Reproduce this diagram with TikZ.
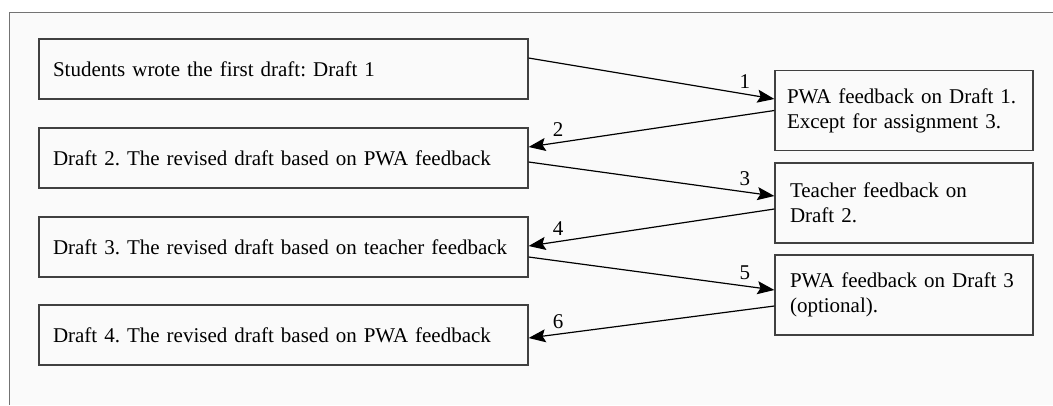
\documentclass[tikz,border=0pt]{standalone}
\usepackage{fontspec}
\setmainfont{Liberation Serif}
\usetikzlibrary{arrows.meta}
\frenchspacing

\begin{document}
\begin{tikzpicture}[x=1pt, y=-1pt,
        draftbox/.style={draw=black!75, line width=1.2pt, text width=461pt, inner xsep=14pt,
            minimum height=60pt, align=left, font=\fontsize{21}{25}\selectfont},
        fbbox/.style={draw=black!75, line width=1.2pt, text width=234pt, inner xsep=12pt,
            minimum height=80pt, align=left, font=\fontsize{21}{25}\selectfont},
        flow/.style={line width=1.2pt, -{Stealth[length=17pt, width=13pt, inset=3pt]}}]
        \useasboundingbox (0,0) rectangle (1053,405);
        \fill[black!2] (9,12) rectangle (1053,405);
        \draw[black!55, line width=0.8pt] (1053,12) -- (9,12) -- (9,405);
        \node[draftbox] (d1) at (283.5,69) {Students wrote the first draft: Draft 1};
        \node[draftbox] (d2) at (283.5,158) {Draft 2. The revised draft based on PWA feedback};
        \node[draftbox] (d3) at (283.5,247) {Draft 3. The revised draft based on teacher feedback};
        \node[draftbox] (d4) at (283.5,335) {Draft 4. The revised draft based on PWA feedback};
        \node[fbbox] (f1) at (904,110.5) {PWA feedback on Draft 1.\\Except for assignment 3.};
        \node[fbbox] (f2) at (904,203) {\hspace*{3pt}Teacher feedback on\\\hspace*{3pt}Draft 2.};
        \node[fbbox] (f3) at (904,295) {\hspace*{3pt}PWA feedback on Draft 3\\\hspace*{3pt}(optional).};
        \foreach \from/\fromanchor/\fshift/\to/\toanchor/\tshift/\num in
            {d1/east/11/f1/west/11.5/1, f1/west/0/d2/east/11/2,
             d2/east/-4/f2/west/7/3, f2/west/-6/d3/east/1/4,
             d3/east/-10/f3/west/5/5, f3/west/-11/d4/east/-3/6} {
            \draw[flow] ([yshift=\fshift pt]\from.\fromanchor) -- ([yshift=\tshift pt]\to.\toanchor)
                node[pos=0.88, above=2pt, font=\fontsize{21}{25}\selectfont] {\num};
        }
    \end{tikzpicture}
\end{document}
